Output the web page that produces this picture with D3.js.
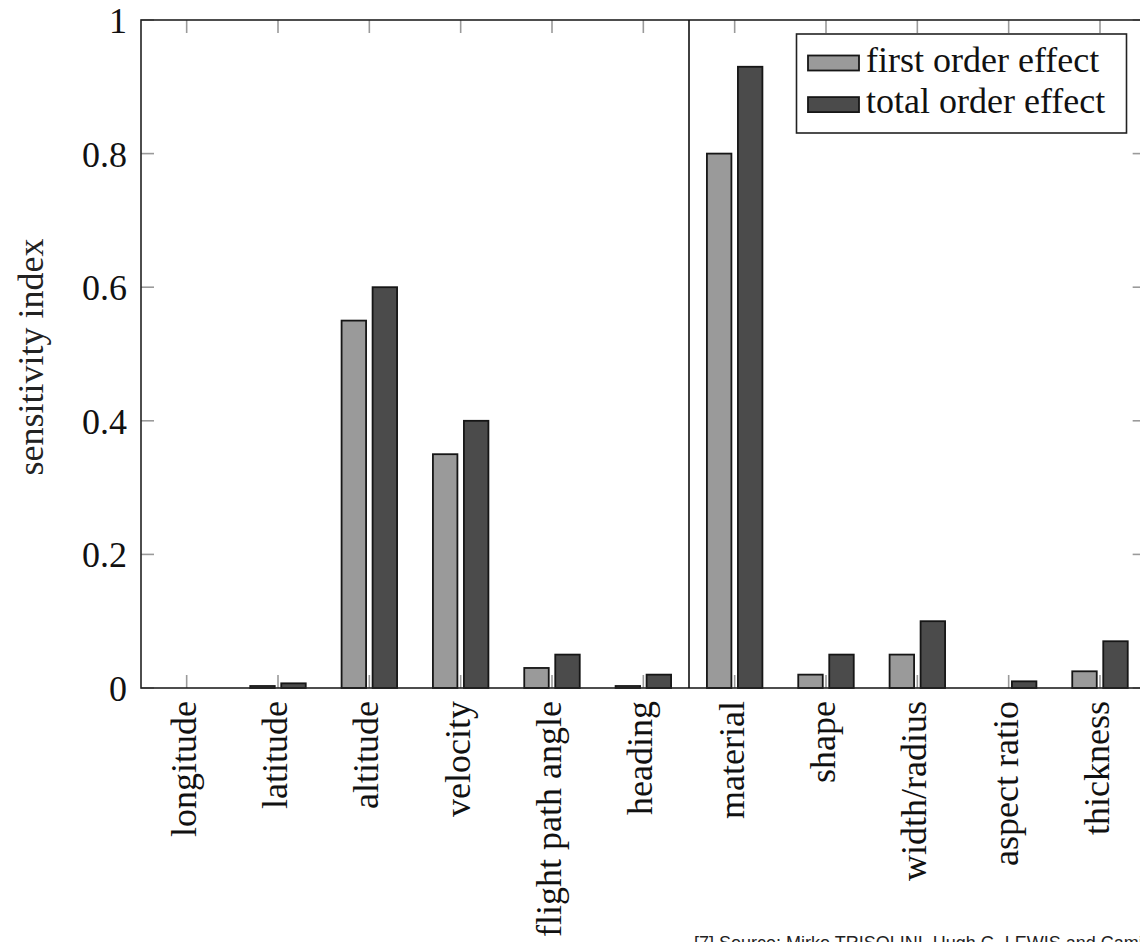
<!DOCTYPE html>
<html>
<head>
<meta charset="utf-8">
<script src="https://cdn.jsdelivr.net/npm/d3@7"></script>
<style>
  html, body { margin: 0; padding: 0; background: #ffffff; }
  svg { display: block; }
</style>
</head>
<body>
<svg id="chart" width="1140" height="942"></svg>
<script>
// Sensitivity indices per input parameter
const categories = ["longitude", "latitude", "altitude", "velocity", "flight path angle", "heading",
                    "material", "shape", "width/radius", "aspect ratio", "thickness"];
const seriesNames = ["first order effect", "total order effect"];
const firstOrder = [0, 0.003, 0.55, 0.35, 0.03, 0.003, 0.80, 0.02, 0.05, 0, 0.025];
const totalOrder = [0, 0.007, 0.60, 0.40, 0.05, 0.02, 0.93, 0.05, 0.10, 0.01, 0.07];
const yTicks = [0, 0.2, 0.4, 0.6, 0.8, 1];
const yTickLabels = ["0", "0.2", "0.4", "0.6", "0.8", "1"];
const yLabel = "sensitivity index";
const sourceNote = "[7] Source: Mirko TRISOLINI, Hugh G. LEWIS and Camilla COLOMBO";
const dividerAfter = "heading"; // trajectory parameters | object parameters

const seriesColors = ["#9a9a9a", "#4b4b4b"];
const serif = "'Liberation Serif', 'Times New Roman', serif";

(function draw() {
  const svg = d3.select("#chart");

  const plotLeft = 141, plotTop = 20, plotBottom = 688;
  const step = (689 - plotLeft) / 6;
  const plotRight = plotLeft + categories.length * step;

  const x = d3.scaleBand().domain(categories).range([plotLeft, plotRight]).padding(0);
  const xSeries = d3.scaleBand().domain(seriesNames).range([-31, 31])
    .paddingInner(0.21).paddingOuter(0.105);
  const y = d3.scaleLinear().domain([0, 1]).range([plotBottom, plotTop]);

  const tickLen = 13;
  const tickColor = "#9a9a9a";
  const frameColor = "#222222";

  // tick marks on all four sides (drawn behind bars)
  const ticks = svg.append("g").attr("stroke", tickColor).attr("stroke-width", 1.6);
  categories.forEach(c => {
    const cx = x(c) + x.bandwidth() / 2;
    ticks.append("line").attr("x1", cx).attr("x2", cx).attr("y1", y(0)).attr("y2", y(0) - tickLen);
    ticks.append("line").attr("x1", cx).attr("x2", cx).attr("y1", y(1)).attr("y2", y(1) + tickLen);
  });
  yTicks.forEach(t => {
    ticks.append("line").attr("x1", plotLeft).attr("x2", plotLeft + tickLen).attr("y1", y(t)).attr("y2", y(t));
    ticks.append("line").attr("x1", plotRight).attr("x2", plotRight - tickLen).attr("y1", y(t)).attr("y2", y(t));
  });

  // bars
  const values = [firstOrder, totalOrder];
  const bars = svg.append("g");
  seriesNames.forEach((s, si) => {
    bars.selectAll(null)
      .data(categories.map((c, i) => ({ c, v: values[si][i] })).filter(d => d.v > 0))
      .join("rect")
      .attr("x", d => x(d.c) + x.bandwidth() / 2 + xSeries(s))
      .attr("width", xSeries.bandwidth())
      .attr("y", d => y(d.v))
      .attr("height", d => y(0) - y(d.v))
      .attr("fill", seriesColors[si])
      .attr("stroke", "#161616")
      .attr("stroke-width", 1.8);
  });

  // frame and group divider
  svg.append("rect")
    .attr("x", plotLeft).attr("y", plotTop)
    .attr("width", plotRight - plotLeft).attr("height", plotBottom - plotTop)
    .attr("fill", "none").attr("stroke", frameColor).attr("stroke-width", 1.6);
  const divX = x(dividerAfter) + x.bandwidth();
  svg.append("line")
    .attr("x1", divX).attr("x2", divX).attr("y1", plotTop).attr("y2", plotBottom)
    .attr("stroke", "#111").attr("stroke-width", 1.6);

  // y tick labels
  svg.append("g").selectAll("text")
    .data(yTicks)
    .join("text")
    .attr("x", 127)
    .attr("y", d => y(d))
    .attr("dy", "0.36em")
    .attr("text-anchor", "end")
    .attr("font-family", serif)
    .attr("font-size", 36)
    .attr("fill", "#111")
    .text((d, i) => yTickLabels[i]);

  // category labels, rotated
  svg.append("g").selectAll("text")
    .data(categories)
    .join("text")
    .attr("transform", d => `translate(${x(d) + x.bandwidth() / 2 + 9},${plotBottom + 13}) rotate(-90)`)
    .attr("text-anchor", "end")
    .attr("font-family", serif)
    .attr("font-size", 36)
    .attr("fill", "#111")
    .text(d => d);

  // y axis title
  svg.append("text")
    .attr("transform", `translate(43,${(plotTop + plotBottom) / 2 + 3}) rotate(-90)`)
    .attr("text-anchor", "middle")
    .attr("font-family", serif)
    .attr("font-size", 36)
    .attr("fill", "#222")
    .text(yLabel);

  // legend
  const legend = svg.append("g");
  legend.append("rect")
    .attr("x", 796.5).attr("y", 34).attr("width", 330).attr("height", 99)
    .attr("fill", "#fff").attr("stroke", frameColor).attr("stroke-width", 1.6);
  seriesNames.forEach((s, i) => {
    const base = 71.5 + i * 41.6;
    legend.append("rect")
      .attr("x", 808).attr("y", base - 16).attr("width", 51).attr("height", 15)
      .attr("fill", seriesColors[i]).attr("stroke", "#161616").attr("stroke-width", 1.8);
    legend.append("text")
      .attr("x", 866).attr("y", base)
      .attr("font-family", serif).attr("font-size", 36).attr("fill", "#111")
      .text(s);
  });

  // source note along the bottom edge
  svg.append("text")
    .attr("x", 694).attr("y", 949)
    .attr("font-family", "'Liberation Sans', Arial, sans-serif")
    .attr("font-size", 18)
    .attr("fill", "#222")
    .text(sourceNote);
})();
</script>
</body>
</html>
